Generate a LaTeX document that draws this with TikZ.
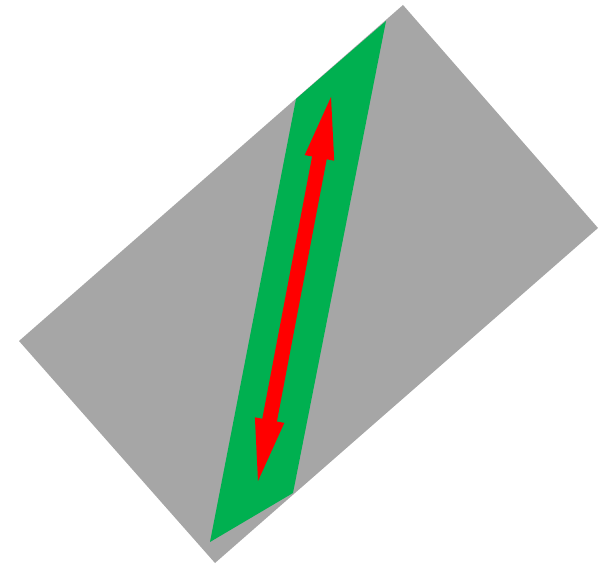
\documentclass[tikz,border=0pt]{standalone}
\definecolor{plate}{HTML}{A6A6A6}
\definecolor{band}{HTML}{00B050}
\definecolor{arr}{HTML}{FF0000}
\begin{document}
\begin{tikzpicture}[x=1pt,y=-1pt]
\useasboundingbox (0,0) rectangle (603,564);
% gray rotated rectangle
\fill[plate] (403,5) -- (598,228) -- (215,563) -- (19,341) -- cycle;
% green band
\fill[band] (386,21) -- (293,493) -- (210,542) -- (296,99) -- cycle;
% red double arrow
\fill[arr] (331,97) -- (334.2,160.7) -- (326.7,159.3) -- (276.9,421.5) -- (284.3,422.9)
  -- (258,481) -- (254.9,417.3) -- (262.3,418.7) -- (312.1,156.5) -- (304.7,155.1) -- cycle;
\end{tikzpicture}
\end{document}
